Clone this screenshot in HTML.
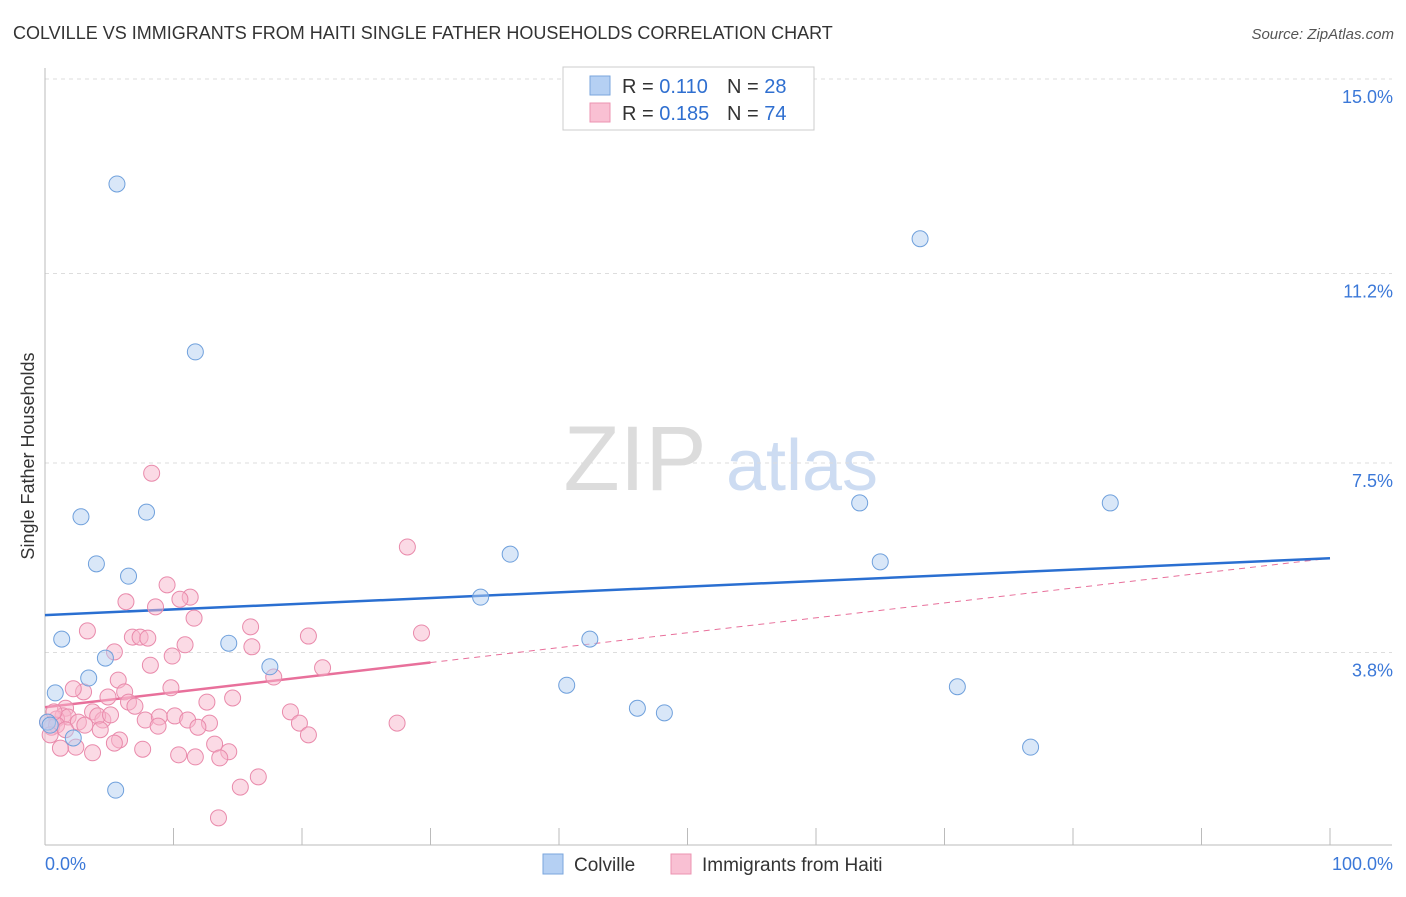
<!DOCTYPE html>
<html><head><meta charset="utf-8">
<style>
body{margin:0;background:#fff;font-family:"Liberation Sans",sans-serif;}
svg text{font-family:"Liberation Sans",sans-serif;}
</style></head>
<body>
<svg id="chart" width="1406" height="892" xmlns="http://www.w3.org/2000/svg">
<text x="13" y="39" font-size="18" fill="#333">COLVILLE VS IMMIGRANTS FROM HAITI SINGLE FATHER HOUSEHOLDS CORRELATION CHART</text>
<text x="1394" y="39" font-size="15" fill="#555" font-style="italic" text-anchor="end">Source: ZipAtlas.com</text>
<g>
<text x="635" y="490" font-size="92" fill="#dcdcdc" font-family="Liberation Serif" text-anchor="middle">ZIP</text>
<text x="802" y="490" font-size="72" fill="#cddcf2" text-anchor="middle">atlas</text>
</g>
<g id="grid"></g>
<g id="axes"></g>
<g id="lines"></g>
<g id="points"></g>
<text transform="translate(34,456) rotate(-90)" font-size="18" fill="#333" text-anchor="middle">Single Father Households</text>
<g>
<rect x="563" y="67" width="251" height="63" fill="#fff" stroke="#ccc"/>
<rect x="590" y="76" width="20" height="19" fill="#b5d0f3" stroke="#7aa6dd"/>
<rect x="590" y="103" width="20" height="19" fill="#f9c0d3" stroke="#ec93b2"/>
<text x="622" y="93" font-size="20" fill="#333">R = <tspan fill="#2f6fd0">0.110</tspan></text>
<text x="727" y="93" font-size="20" fill="#333">N = <tspan fill="#2f6fd0">28</tspan></text>
<text x="622" y="120" font-size="20" fill="#333">R = <tspan fill="#2f6fd0">0.185</tspan></text>
<text x="727" y="120" font-size="20" fill="#333">N = <tspan fill="#2f6fd0">74</tspan></text>
</g>
<g>
<rect x="543" y="854" width="20" height="20" fill="#b5d0f3" stroke="#7aa6dd"/>
<text x="574" y="871" font-size="19" fill="#333">Colville</text>
<rect x="671" y="854" width="20" height="20" fill="#f9c0d3" stroke="#ec93b2"/>
<text x="702" y="871" font-size="19" fill="#333">Immigrants from Haiti</text>
</g>
</svg>
<script>
const yTicks=[3.8,7.5,11.2,15.0];
const yTickLabels=["3.8%","7.5%","11.2%","15.0%"];
const xTickLabels=["0.0%","100.0%"];
const blueX=[5.6,11.7,68.1,2.8,7.9,4.0,6.5,1.3,4.7,3.4,0.8,2.2,5.5,14.3,17.5,33.9,36.2,42.4,40.6,46.1,48.2,63.4,65.0,71.0,76.7,82.9,0.2,0.4];
const blueY=[12.95,9.67,11.88,6.45,6.54,5.53,5.29,4.06,3.69,3.30,3.01,2.13,1.11,3.98,3.52,4.88,5.72,4.06,3.16,2.71,2.62,6.72,5.57,3.13,1.95,6.72,2.44,2.38];
const pinkX=[8.3,28.2,29.3,27.4,20.5,21.6,16.0,16.1,17.8,19.1,19.8,20.5,9.5,11.3,10.5,11.6,8.6,6.3,3.3,6.8,7.4,8.0,10.9,9.9,8.2,5.4,5.7,9.8,6.2,3.0,2.2,4.9,14.6,12.6,6.5,7.0,1.6,3.7,1.4,0.9,1.8,4.5,4.1,7.8,8.9,10.1,11.1,12.8,11.9,8.8,4.3,0.5,0.2,0.9,2.6,5.8,5.4,7.6,2.4,1.2,3.7,10.4,11.7,13.2,14.3,13.6,16.6,15.2,13.5,0.4,3.1,5.1,1.6,0.7];
const pinkY=[7.30,5.86,4.18,2.42,4.12,3.50,4.30,3.91,3.32,2.64,2.42,2.19,5.12,4.88,4.84,4.47,4.69,4.79,4.22,4.10,4.10,4.08,3.95,3.73,3.55,3.81,3.26,3.11,3.03,3.03,3.09,2.93,2.91,2.83,2.83,2.75,2.71,2.64,2.56,2.50,2.54,2.48,2.56,2.48,2.54,2.56,2.48,2.42,2.34,2.36,2.29,2.34,2.44,2.38,2.44,2.09,2.03,1.91,1.95,1.93,1.84,1.80,1.76,2.01,1.86,1.74,1.37,1.17,0.57,2.19,2.38,2.58,2.29,2.64];
const blueTrend=[4.53,5.64];
const pinkTrend=[2.73,5.64];
const pinkSolidEnd=30;
const NS="http://www.w3.org/2000/svg";
const sx=v=>45+v*12.85;
const sy=v=>79+(15-v)*51.2;
function mk(tag,attrs,parent){const e=document.createElementNS(NS,tag);for(const k in attrs)e.setAttribute(k,attrs[k]);document.getElementById(parent).appendChild(e);return e;}
yTicks.forEach((t,i)=>{
  const l=mk('line',{x1:45,x2:1392,y1:sy(t),y2:sy(t),stroke:'#ddd','stroke-dasharray':'4,4'},'grid');
  
  
  const tx=mk('text',{x:1393,y:sy(t)+24,'font-size':18,fill:'#3b78d8','text-anchor':'end'},'grid');
  tx.textContent=yTickLabels[i];
  
  
});
const ax=mk('line',{x1:45,x2:1392,y1:845,y2:845,stroke:'#bbb'},'axes');


const ay=mk('line',{x1:45,x2:45,y1:68,y2:845,stroke:'#bbb'},'axes');


for(let i=1;i<=10;i++){
  const t=mk('line',{x1:sx(i*10),x2:sx(i*10),y1:828,y2:845,stroke:'#bbb'},'axes');
  
  
}
const xl0=mk('text',{x:45,y:870,'font-size':18,fill:'#3b78d8'},'axes');xl0.textContent=xTickLabels[0];


const xl1=mk('text',{x:1393,y:870,'font-size':18,fill:'#3b78d8','text-anchor':'end'},'axes');xl1.textContent=xTickLabels[1];


function pts(xs,ys,fill,stroke,name){
  xs.forEach((x,i)=>{
    const c=mk('circle',{cx:sx(x),cy:sy(ys[i]),r:8,fill:fill,'fill-opacity':0.5,stroke:stroke,'stroke-width':1},'points');
    
    
  });
}
pts(pinkX,pinkY,'#f7b6cb','#e98aab','haiti-point');
pts(blueX,blueY,'#b3cff2','#6fa0dc','colville-point');
const pe=pinkTrend[0]+(pinkTrend[1]-pinkTrend[0])*pinkSolidEnd/100;
const pd=mk('line',{x1:sx(pinkSolidEnd),y1:sy(pe),x2:sx(100),y2:sy(pinkTrend[1]),stroke:'#e8709b','stroke-width':1,'stroke-dasharray':'6,5'},'lines');


const ps=mk('line',{x1:sx(0),y1:sy(pinkTrend[0]),x2:sx(pinkSolidEnd),y2:sy(pe),stroke:'#e8709b','stroke-width':2.5},'lines');


const bl=mk('line',{x1:sx(0),y1:sy(blueTrend[0]),x2:sx(100),y2:sy(blueTrend[1]),stroke:'#2a6fd1','stroke-width':2.5},'lines');


</script>
</body></html>
